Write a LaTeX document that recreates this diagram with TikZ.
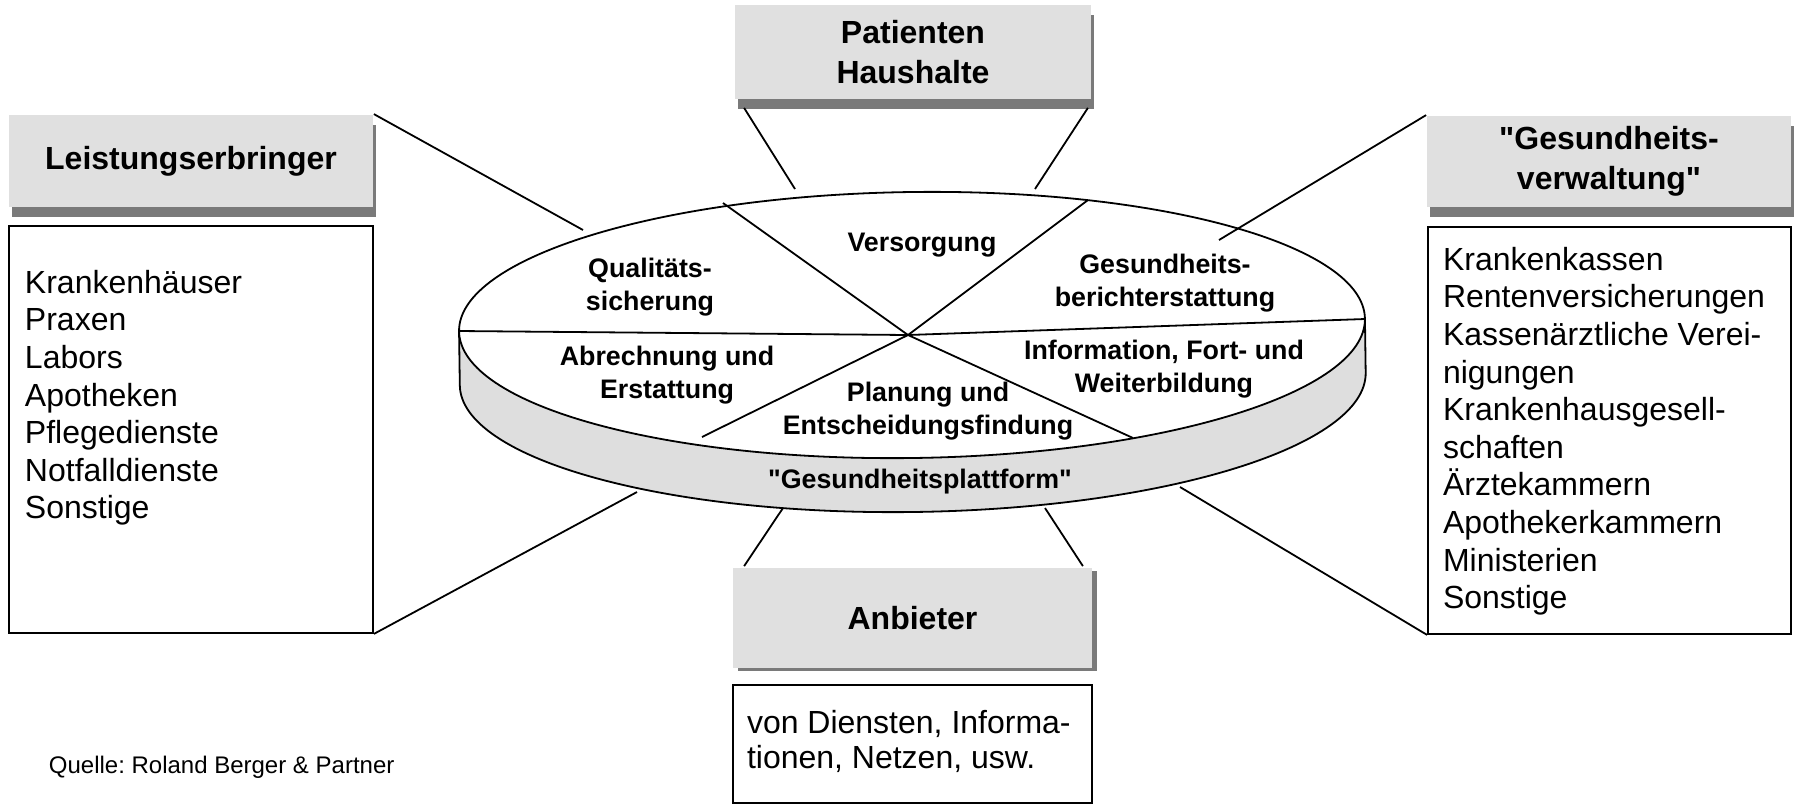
\documentclass[tikz,border=0pt]{standalone}
\usepackage{fontspec}
\setmainfont{Liberation Sans}[Ligatures=TeXOff]
\usetikzlibrary{positioning,shadows,calc}
\definecolor{kopfgrau}{gray}{0.88}
\definecolor{schattengrau}{gray}{0.48}
\definecolor{bandgrau}{gray}{0.87}
\frenchspacing
\tikzset{
  kopf/.style={fill=kopfgrau,inner sep=0pt,align=center,font=\bfseries\fontsize{16}{20}\selectfont},
  schatten/.style={drop shadow={shadow xshift=1.5pt,shadow yshift=-5pt,fill=schattengrau,opacity=1}},
  liste/.style={draw,inner sep=0pt},
  listentext/.style={inner sep=0pt,align=left,font=\fontsize{16}{18.8}\selectfont},
  feld/.style={inner sep=0pt,align=center,font=\bfseries\fontsize{13.4}{16.5}\selectfont}
}
\begin{document}
\begin{tikzpicture}[x=0.5pt,y=-0.5pt,line width=0.9pt]
\useasboundingbox (0,0) rectangle (1795,805);

% Plattform
\begin{scope}[rotate around={0.8:(912,325)}]
\fill[bandgrau] (459,325) -- (459,379) arc[start angle=180,end angle=360,x radius=226.5pt,y radius=66.5pt] -- (1365,325) -- cycle;
\draw (459,325) -- (459,379) arc[start angle=180,end angle=360,x radius=226.5pt,y radius=66.5pt] -- (1365,325);
\draw[fill=white] (912,325) ellipse [x radius=226.5pt,y radius=66.5pt];
\end{scope}

\coordinate (mitte) at (908,335);
\coordinate (sp_l) at (459,331);
\coordinate (sp_r) at (1365,319);
\coordinate (sp_ol) at (723,203);
\coordinate (sp_or) at (1088,200);
\coordinate (sp_ul) at (702,437);
\coordinate (sp_ur) at (1133,438);
\foreach \s in {sp_l,sp_r,sp_ol,sp_or,sp_ul,sp_ur}
  \draw (mitte) -- (\s);

\node[feld] (qual) at (650,287) {Qualitäts-\\sicherung};
\node[feld] (vers) at (922,245) {Versorgung};
\node[feld] (ber) at (1165,283) {Gesundheits-\\berichterstattung};
\node[feld] (abr) at (667,375) {Abrechnung und\\Erstattung};
\node[feld] (plan) at (928,411) {Planung und\\Entscheidungsfindung};
\node[feld] (info) at (1164,369) {Information, Fort- und\\Weiterbildung};
\node[feld] (plattform) at (920,482) {"Gesundheitsplattform"};

% Akteure
\node[kopf,schatten,minimum width=182pt,minimum height=46pt] (lstg) at (191,161) {Leistungserbringer};
\node[liste,minimum width=182pt,minimum height=203.5pt] (lstgliste) at (191,429.5) {};
\node[listentext,below right=22pt and 8pt of lstgliste.north west] (lstgtext)
  {Krankenhäuser\\Praxen\\Labors\\Apotheken\\Pflegedienste\\Notfalldienste\\Sonstige};

\node[kopf,schatten,minimum width=178pt,minimum height=47pt] (pat) at (913,52) {Patienten\\Haushalte};

\node[kopf,schatten,minimum width=182pt,minimum height=45.5pt] (verw) at (1609,161.5) {"Gesundheits-\\verwaltung"};
\node[liste,minimum width=181.5pt,minimum height=203.5pt] (verwliste) at (1609.5,430.5) {};
\node[listentext,below right=10pt and 7.5pt of verwliste.north west] (verwtext)
  {Krankenkassen\\Rentenversicherungen\\Kassenärztliche Verei-\\nigungen\\Krankenhausgesell-\\schaften\\Ärztekammern\\Apothekerkammern\\Ministerien\\Sonstige};

\node[kopf,drop shadow={shadow xshift=2.5pt,shadow yshift=-1.5pt,fill=schattengrau,opacity=1},
  minimum width=179.5pt,minimum height=50pt] (anb) at (912.5,618) {Anbieter};
\node[liste,minimum width=179.5pt,minimum height=59pt] (anbliste) at (912.5,744) {};
\node[listentext,font=\fontsize{16}{17.5}\selectfont,below right=12.5pt and 7pt of anbliste.north west] (anbtext)
  {von Diensten, Informa-\\tionen, Netzen, usw.};

\node[anchor=base west,inner sep=0pt,font=\fontsize{12}{14}\selectfont] (quelle) at (48,773) {Quelle: Roland Berger \& Partner};

% Verbindungen
\coordinate (an_lstg) at (583,230);
\coordinate (an_lstgliste) at (637,492);
\coordinate (an_pat1) at (795,189);
\coordinate (an_pat2) at (1035,189);
\coordinate (an_verw) at (1219,240);
\coordinate (an_verwliste) at (1180,487);
\coordinate (an_anb1) at (783,508);
\coordinate (an_anb2) at (1045,508);

\draw (lstg.north east) -- (an_lstg);
\draw (lstgliste.south east) -- (an_lstgliste);
\draw ($(pat.south west)+(10,8)$) -- (an_pat1);
\draw ($(pat.south east)+(-4,8)$) -- (an_pat2);
\draw (verw.north west) -- (an_verw);
\draw (verwliste.south west) -- (an_verwliste);
\draw ($(anb.north west)+(12,-1)$) -- (an_anb1);
\draw ($(anb.north east)+(-10,-1)$) -- (an_anb2);
\end{tikzpicture}
\end{document}
